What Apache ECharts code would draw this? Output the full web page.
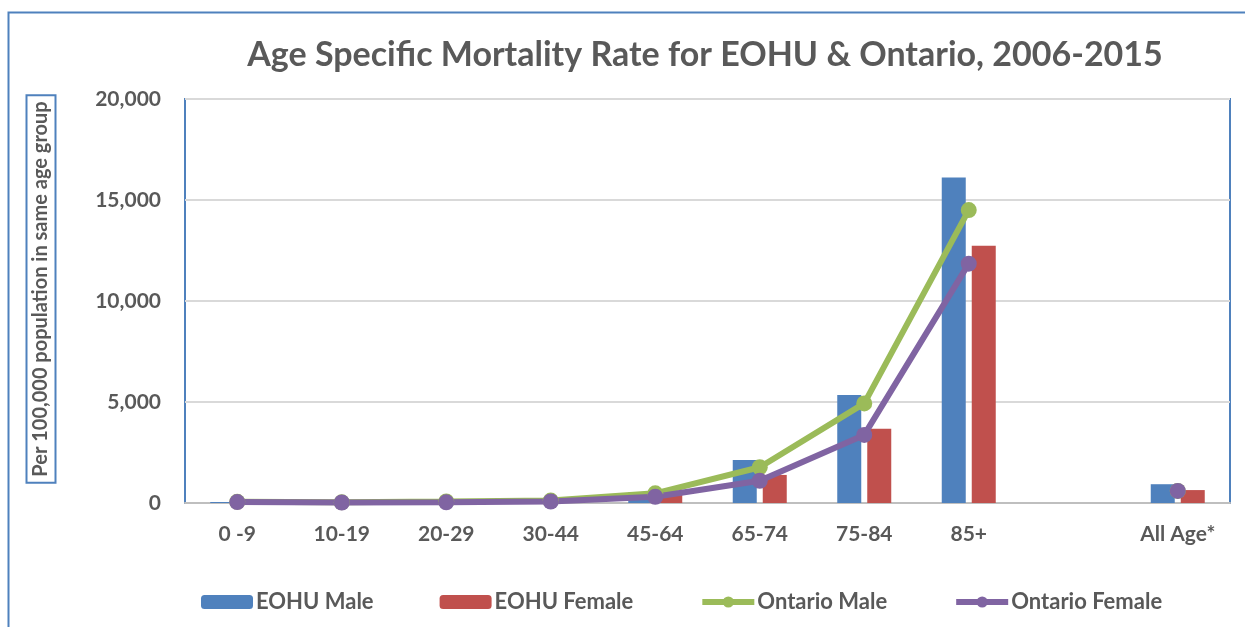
<!DOCTYPE html>
<html>
<head>
<meta charset="utf-8">
<script src="https://cdn.jsdelivr.net/npm/echarts@6/dist/echarts.min.js"></script>
<style>html,body{margin:0;padding:0;background:#fff;}#chart{width:1245px;height:627px;}</style>
</head>
<body>
<div id="chart"></div>
<script>
var categories = ['0 -9', '10-19', '20-29', '30-44', '45-64', '65-74', '75-84', '85+', '', 'All Age*'];
var eohuMale = [50, 30, 60, 110, 530, 2130, 5350, 16120, null, 930];
var eohuFemale = [40, 20, 35, 75, 400, 1390, 3670, 12740, null, 640];
var ontarioMale = [60, 35, 75, 120, 480, 1770, 4930, 14500, null, 600];
var ontarioFemale = [45, 25, 35, 75, 310, 1100, 3370, 11850, null, 600];
var yTicks = [0, 5000, 10000, 15000, 20000];

var FONT = 'Lato';
var TXT = '#595959';
var chart = echarts.init(document.getElementById('chart'), null, {renderer: 'canvas'});
chart.setOption({
  backgroundColor: '#ffffff',
  animation: false,
  title: {
    text: 'Age Specific Mortality Rate for EOHU & Ontario, 2006-2015',
    left: 700, top: 33, textAlign: 'center',
    textStyle: {fontFamily: FONT, fontWeight: 'bold', fontSize: 34, color: TXT}
  },
  graphic: [
    {type: 'rect', shape: {x: 8.5, y: 12.5, width: 1300, height: 700}, style: {fill: 'none', stroke: '#4F81BD', lineWidth: 2}, z: -1},
    {type: 'text', x: 41, y: 289, rotation: Math.PI / 2,
     style: {text: 'Per 100,000 population in same age group', align: 'center', verticalAlign: 'middle',
             font: 'bold 20px ' + FONT, fill: TXT, borderColor: '#4F81BD', borderWidth: 2, padding: [6, 6, 3, 6]}}
  ],
  grid: {left: 185, right: 15, top: 99, bottom: 124, show: true, borderColor: '#4F81BD', borderWidth: 2},
  legend: {
    left: 196, top: 586, itemWidth: 52, itemHeight: 14, itemGap: 66,
    textStyle: {fontFamily: FONT, fontWeight: 'bold', fontSize: 22, color: TXT, padding: [0, 0, 0, -2]},
    data: [
      {name: 'EOHU Male'},
      {name: 'EOHU Female'},
      {name: 'Ontario Male', lineStyle: {width: 6}},
      {name: 'Ontario Female', lineStyle: {width: 6}}
    ]
  },
  xAxis: {
    type: 'category', data: categories,
    axisLine: {lineStyle: {color: '#BFBFBF', width: 2}},
    axisTick: {show: false},
    axisLabel: {fontFamily: FONT, fontWeight: 'bold', fontSize: 21, color: TXT, margin: 21}
  },
  yAxis: {
    type: 'value', min: 0, max: 20000, interval: 5000,
    axisLine: {show: false}, axisTick: {show: false},
    splitLine: {lineStyle: {color: '#D9D9D9', width: 2}},
    axisLabel: {fontFamily: FONT, fontWeight: 'bold', fontSize: 21, color: TXT, margin: 24,
      formatter: function (v) { return yTicks.indexOf(v) >= 0 ? v.toLocaleString('en-US') : ''; }}
  },
  series: [
    {name: 'EOHU Male', type: 'bar', data: eohuMale, barWidth: 24, barGap: '25%',
     itemStyle: {color: '#4F81BD'}},
    {name: 'EOHU Female', type: 'bar', data: eohuFemale, barWidth: 24,
     itemStyle: {color: '#C0504D'}},
    {name: 'Ontario Male', type: 'line', data: ontarioMale, connectNulls: false,
     symbol: 'circle', symbolSize: 16, lineStyle: {color: '#9BBB59', width: 6},
     itemStyle: {color: '#9BBB59'}},
    {name: 'Ontario Female', type: 'line', data: ontarioFemale, connectNulls: false,
     symbol: 'circle', symbolSize: 16, lineStyle: {color: '#8064A2', width: 6},
     itemStyle: {color: '#8064A2'}}
  ]
});
</script>
</body>
</html>
